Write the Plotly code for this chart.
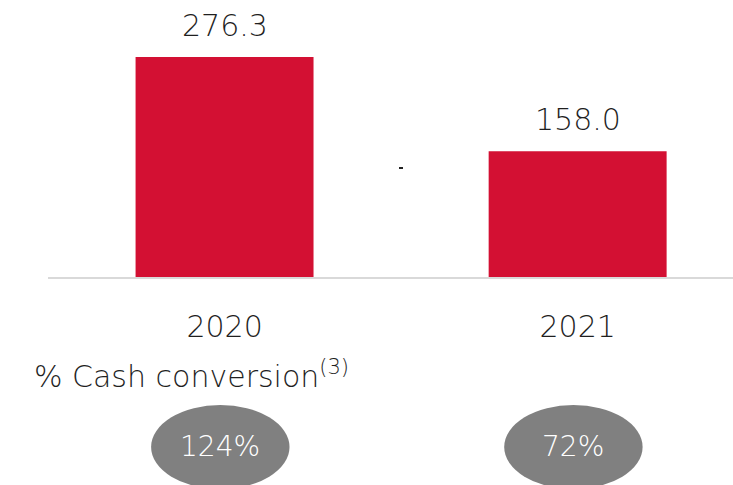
import plotly.graph_objects as go

years = ["2020", "2021"]
cash_flow = [276.3, 158.0]
value_labels = ["276.3", "158.0"]
conversion = ["124%", "72%"]

W, H = 733, 485
ML, MB = 48, 208
plot_h = H - MB
FONT = "DejaVu Sans"
TXT = "#1f1f1f"
WT = 300

fig = go.Figure()
fig.add_trace(go.Bar(
    x=years, y=cash_flow, width=0.504,
    marker=dict(color="#d31033", line=dict(width=0)),
    hoverinfo="skip",
))

def py(p):
    return (plot_h - p) / plot_h

shapes = []
for i, c in enumerate(conversion):
    cx = i - 0.012
    shapes.append(dict(type="circle", xref="x", yref="paper",
                       x0=cx - 0.196, x1=cx + 0.196, y0=py(489), y1=py(405),
                       fillcolor="#808080", line=dict(width=0), layer="above"))
shapes.append(dict(type="rect", xref="paper", yref="paper",
                   x0=(399 - ML) / (W - ML), x1=(403 - ML) / (W - ML),
                   y0=py(169), y1=py(167), fillcolor="#222", line=dict(width=0)))

annotations = []
for i, (v, lab) in enumerate(zip(cash_flow, value_labels)):
    annotations.append(dict(x=i, y=v, xref="x", yref="y", text=lab,
                            showarrow=False, xanchor="center", yanchor="middle",
                            yshift=32,
                            font=dict(family=FONT, size=30, color=TXT, weight=WT)))
for i, c in enumerate(conversion):
    annotations.append(dict(x=i - 0.012, y=py(447), xref="x", yref="paper", text=c,
                            showarrow=False, xanchor="center", yanchor="middle",
                            font=dict(family=FONT, size=28, color="white", weight=WT)))
annotations.append(dict(x=(32 - ML) / (W - ML), y=py(374), xref="paper", yref="paper",
                        text="% Cash conversion<sup>(3)</sup>", showarrow=False,
                        xanchor="left", yanchor="middle",
                        font=dict(family=FONT, size=30, color=TXT, weight=WT)))

fig.update_layout(
    width=W, height=H,
    margin=dict(l=ML, r=0, t=0, b=MB),
    paper_bgcolor="white", plot_bgcolor="white",
    showlegend=False,
    shapes=shapes, annotations=annotations,
    xaxis=dict(range=[-0.5, 1.44], showgrid=False, zeroline=False,
               showline=True, linecolor="#d9d9d9", linewidth=2,
               ticks="", ticklabelstandoff=22,
               tickfont=dict(family=FONT, size=30, color=TXT, weight=WT)),
    yaxis=dict(range=[0, 348], showgrid=False, zeroline=False, showline=False,
               showticklabels=False, ticks=""),
)

fig.write_html("out.html")
